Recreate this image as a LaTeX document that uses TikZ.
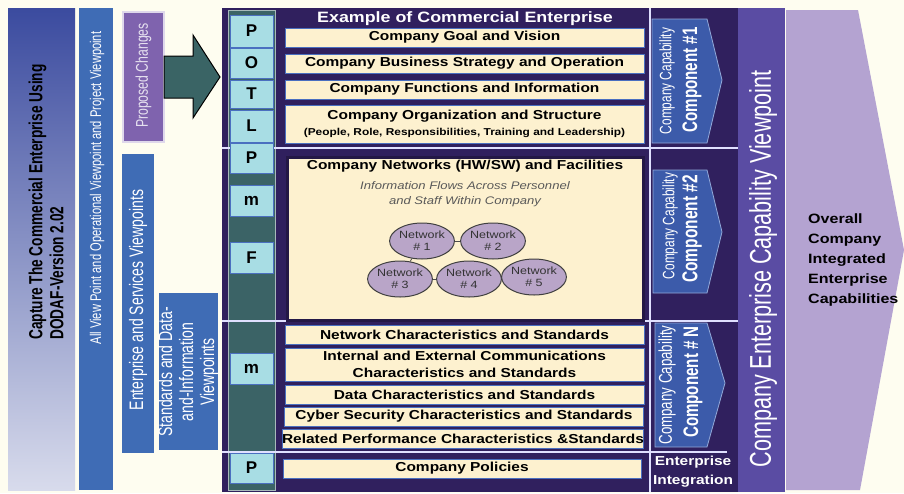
\documentclass[tikz,border=0pt]{standalone}
\usepackage{fontspec}
\setmainfont{Liberation Sans}
\newfontfamily\hfont[FakeStretch=1.19]{Liberation Sans}
\newfontfamily\nfont[FakeStretch=0.72]{Liberation Sans}
\usetikzlibrary{shapes.geometric}
\definecolor{paper}{HTML}{FEFDF0}
\definecolor{titleblue}{HTML}{3B4B9F}
\definecolor{navy}{HTML}{30205E}
\definecolor{viewblue}{HTML}{3F6CB5}
\definecolor{propviolet}{HTML}{7F63AE}
\definecolor{arrowteal}{HTML}{3A6465}
\definecolor{colteal}{HTML}{3B6366}
\definecolor{letterfill}{HTML}{A8DDE4}
\definecolor{boxfill}{HTML}{FDF1CF}
\definecolor{boxline}{HTML}{4A6FC0}
\definecolor{netfill}{HTML}{B9A5C8}
\definecolor{chevblue}{HTML}{3C5BAA}
\definecolor{capviolet}{HTML}{5A4CA3}
\definecolor{lilac}{HTML}{B4A3D1}
\tikzset{
  cbox/.style={draw=boxline, line width=1pt, fill=boxfill, minimum width=359pt,
    inner sep=0pt, align=center, font=\hfont\bfseries\fontsize{13}{17}\selectfont},
  letter/.style={draw=boxline, line width=1pt, fill=letterfill, minimum width=43pt,
    inner sep=0pt, font=\bfseries\fontsize{17}{17}\selectfont},
  netw/.style={ellipse, draw=black!75, line width=1pt, fill=netfill, minimum width=54pt,
    minimum height=36pt, inner sep=0pt, align=center, text=black!80,
    font=\hfont\fontsize{10.5}{12}\selectfont},
  uptext/.style={rotate=90, align=center, text=white, inner sep=0pt},
  chev/.style={fill=chevblue, draw=boxline!60!white, line width=0.8pt},
  divider/.style={draw=white!88!blue, line width=1.5pt}
}
\begin{document}
\begin{tikzpicture}[x=1pt,y=-1pt]
\useasboundingbox (0,0) rectangle (904,493);
\fill[paper] (0,0) rectangle (904,493);

% viewpoint strips on the left
\shade[top color=titleblue, bottom color=white!80!titleblue] (8,8) rectangle (75,490);
\node[uptext, text=black, align=left, font=\nfont\bfseries\fontsize{19}{21}\selectfont] (capture) at (46,202)
  {Capture The Commercial Enterprise Using\\DODAF-Version 2.02};
\fill[viewblue] (79,8) rectangle (113,490);
\node[uptext, font=\nfont\fontsize{15.5}{17}\selectfont] (allview) at (97,188)
  {All View Point and Operational Viewpoint and Project Viewpoint};
\filldraw[fill=propviolet, draw=white!75!propviolet, line width=1.5pt] (123,12) rectangle (164,142);
\node[uptext, text=white!80!propviolet, font=\nfont\fontsize{17}{18}\selectfont] (proposed) at (143.5,75.5) {Proposed Changes};
\filldraw[fill=arrowteal, draw=black, line width=1pt]
  (164,56) -- (193,56) -- (193,35) -- (220,77) -- (193,118) -- (193,98) -- (164,98) -- cycle;
\fill[viewblue] (122,154) rectangle (154,453);
\node[uptext, font=\nfont\fontsize{19.5}{20}\selectfont] (entserv) at (138,300) {Enterprise and Services Viewpoints};
\fill[viewblue] (159,293) rectangle (218,450);
\node[uptext, font=\nfont\fontsize{19.5}{21}\selectfont] (stdview) at (188,372)
  {Standards and Data-\\and-Information\\Viewpoints};

% main panel
\fill[navy] (222,8) rectangle (738,492);
\filldraw[fill=colteal, draw=white!55!colteal, line width=1pt] (228,10) rectangle (275,490);
\draw[divider] (222,148) -- (738,148);
\draw[divider] (222,321) -- (738,321);
\draw[divider] (222,452) -- (727,452);
\draw[divider] (650,8) -- (650,492);

\node[text=white, font=\hfont\bfseries\fontsize{15}{15}\selectfont] (example) at (465,19) {Example of Commercial Enterprise};
\node[cbox, minimum height=19pt] (goal) at (464.5,37.5) {Company Goal and Vision};
\node[cbox, minimum height=19pt] (strategy) at (464.5,63.5) {Company Business Strategy and Operation};
\node[cbox, minimum height=19pt] (functions) at (464.5,89.5) {Company Functions and Information};
\node[cbox, minimum height=38pt] (organization) at (464.5,124) {Company Organization and Structure\\[-1pt]
  {\fontsize{10}{12}\selectfont(People, Role, Responsibilities, Training and Leadership)}};

\filldraw[fill=boxfill, draw=navy!75!black, line width=3pt] (287,157) rectangle (643,320);
\node[font=\hfont\bfseries\fontsize{13}{13}\selectfont] (networks) at (465,166) {Company Networks (HW/SW) and Facilities};
\node[text=black!65, align=center, font=\hfont\itshape\fontsize{11}{15}\selectfont] (flows) at (465,194.5)
  {Information Flows Across Personnel\\and Staff Within Company};
\node[netw] (n1) at (422,241) {Network\\\# 1};
\node[netw] (n2) at (493,241) {Network\\\# 2};
\node[netw] (n3) at (400,279) {Network\\\# 3};
\node[netw] (n4) at (469,279) {Network\\\# 4};
\node[netw] (n5) at (534,277) {Network\\\# 5};
\draw[black!70, line width=0.8pt] (n1) -- (n2);
\draw[black!70, line width=0.8pt] (n1) -- (n3);
\draw[black!70, line width=0.8pt] (n3) -- (n4);
\draw[black!70, line width=0.8pt] (n4) -- (n5);

\node[cbox, minimum height=19pt] (netstd) at (464.5,334.5) {Network Characteristics and Standards};
\node[cbox, minimum height=33pt] (commstd) at (464.5,364.5) {Internal and External Communications\\Characteristics and Standards};
\node[cbox, minimum height=19pt] (datastd) at (464.5,394.5) {Data Characteristics and Standards};
\node[cbox, minimum height=19pt] (cyberstd) at (464,416.5) {Cyber Security Characteristics and Standards};
\node[cbox, minimum height=19pt, minimum width=360pt] (perfstd) at (463,438.5) {Related Performance Characteristics \&Standards};
\node[cbox, minimum height=19pt, minimum width=358pt] (policies) at (462,468.5) {Company Policies};

\node[letter, minimum height=32pt] (lp1) at (251.5,31) {P};
\node[letter, minimum height=30pt] (lo) at (251.5,63) {O};
\node[letter, minimum height=28pt] (lt) at (251.5,94) {T};
\node[letter, minimum height=32pt] (ll) at (251.5,126) {L};
\node[letter, minimum height=30pt] (lp2) at (251.5,158) {P};
\node[letter, minimum height=31pt] (lm1) at (251.5,200.5) {m};
\node[letter, minimum height=31pt] (lf) at (251.5,257.5) {F};
\node[letter, minimum height=31pt] (lm2) at (251.5,368.5) {m};
\node[letter, minimum height=30pt] (lp3) at (251.5,468) {P};

% capability components
\filldraw[chev] (652,19) -- (707,19) -- (722,80) -- (707,143) -- (652,143) -- cycle;
\node[uptext, font=\nfont\fontsize{16.5}{17}\selectfont] (cap1) at (667,81) {Company Capability};
\node[uptext, font=\nfont\bfseries\fontsize{21}{21}\selectfont] (comp1) at (692,80) {Component \#1};
\filldraw[chev] (653,170) -- (707,170) -- (722,232) -- (707,293) -- (653,293) -- cycle;
\node[uptext, font=\nfont\fontsize{16.5}{17}\selectfont] (cap2) at (670,226) {Company Capability};
\node[uptext, font=\nfont\bfseries\fontsize{21.5}{21}\selectfont] (comp2) at (692,229) {Component \#2};
\filldraw[chev] (655,323) -- (707,323) -- (725,383) -- (707,447) -- (655,447) -- cycle;
\node[uptext, font=\nfont\fontsize{18.5}{19}\selectfont] (capn) at (667,385) {Company Capability};
\node[uptext, font=\nfont\bfseries\fontsize{21}{21}\selectfont] (compn) at (693,382) {Component \# N};
\node[text=white, align=center, font=\hfont\bfseries\fontsize{13}{19}\selectfont] (integration) at (693,472)
  {Enterprise\\Integration};

% capability viewpoint and overall arrow
\fill[capviolet] (738,8) rectangle (785,492);
\node[uptext, font=\nfont\fontsize{30}{30}\selectfont] (capview) at (763,269) {Company Enterprise Capability Viewpoint};
\fill[lilac] (786,10) -- (858,10) -- (904,250) -- (860,490) -- (786,490) -- cycle;
\node[anchor=west, align=left, inner sep=0pt, font=\hfont\bfseries\fontsize{13.5}{20}\selectfont] (overall) at (808,260)
  {Overall\\Company\\Integrated\\Enterprise\\Capabilities};
\end{tikzpicture}
\end{document}
